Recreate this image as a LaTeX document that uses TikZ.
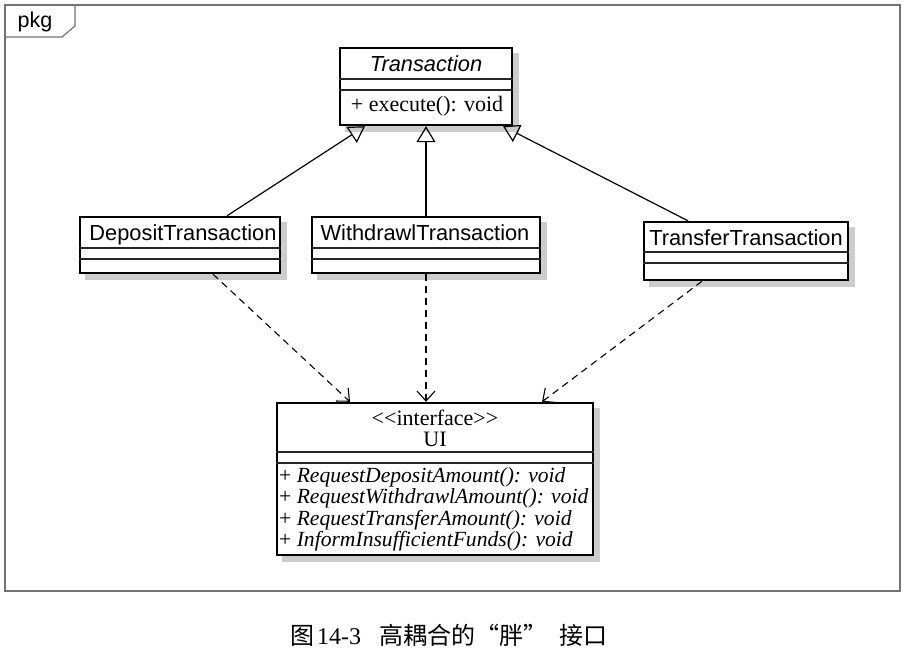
\documentclass[tikz,border=0pt]{standalone}
\usepackage{fontspec}
\setmainfont{Liberation Serif}
\setsansfont{Liberation Sans}
\newfontfamily\cjk{Noto Sans CJK SC}
\usetikzlibrary{arrows.meta,backgrounds}
\begin{document}
\begin{tikzpicture}[x=1pt,y=-1pt,
  classbox/.style={draw=black, line width=2.4pt, fill=white, inner sep=0pt},
  divider/.style={line width=1.1pt, draw=black!85},
  cname/.style={font=\sffamily\fontsize{21.8}{24}\selectfont, anchor=base, inner sep=0pt},
  mtext/.style={font=\fontsize{22}{24}\selectfont, anchor=base, inner sep=0pt},
  utext/.style={font=\fontsize{21.6}{24}\selectfont, anchor=base west, inner sep=0pt},
  shadowfill/.style={fill=black!20},
  frameline/.style={draw=black!55, line width=1.2pt},
  gen/.style={draw=black, line width=1.2pt, -{Triangle[open, length=16pt, width=19pt, line width=1.2pt]}},
  dependency/.style={draw=black, line width=1.1pt, dash pattern=on 7pt off 5pt, -{Straight Barb[length=10pt, width=18pt, line width=1.1pt]}}
]
\useasboundingbox (0,0) rectangle (906,654);

% outer package frame
\draw[frameline] (5,5) rectangle (900,591);
\draw[frameline] (75,5) -- (75,26) -- (62,37) -- (5,37);
\node[font=\sffamily\fontsize{21.5}{24}\selectfont, anchor=base, inner sep=0pt] (pkg) at (35,27) {pkg};

% class boxes
\node[classbox, minimum width=172pt, minimum height=77pt] (trans) at (426,86.5) {};
\node[classbox, minimum width=200pt, minimum height=56pt] (dep) at (180,245) {};
\node[classbox, minimum width=228pt, minimum height=56pt] (wd) at (426,245) {};
\node[classbox, minimum width=204pt, minimum height=58pt] (tr) at (746,251) {};
\node[classbox, minimum width=316pt, minimum height=152pt] (ui) at (435,479) {};

% shadows
\begin{scope}[on background layer]
  \foreach \n in {trans,dep,wd,tr,ui}{
    \fill[shadowfill] ([shift={(6,6)}]\n.south west) rectangle ([shift={(6,6)}]\n.north east);
  }
\end{scope}

% dividers
\draw[divider] (trans.west |- 0,79) -- (trans.east |- 0,79);
\draw[divider] (trans.west |- 0,90) -- (trans.east |- 0,90);
\draw[divider] (dep.west |- 0,248) -- (dep.east |- 0,248);
\draw[divider] (dep.west |- 0,259) -- (dep.east |- 0,259);
\draw[divider] (wd.west |- 0,248) -- (wd.east |- 0,248);
\draw[divider] (wd.west |- 0,259) -- (wd.east |- 0,259);
\draw[divider] (tr.west |- 0,252) -- (tr.east |- 0,252);
\draw[divider] (tr.west |- 0,263) -- (tr.east |- 0,263);
\draw[divider] (ui.west |- 0,452) -- (ui.east |- 0,452);
\draw[divider] (ui.west |- 0,463) -- (ui.east |- 0,463);

% texts
\node[cname, font=\sffamily\itshape\fontsize{21.8}{24}\selectfont] (transname) at (426,71) {Transaction};
\node[mtext] (transop) at (427,111) {+ execute(): void};
\node[cname] (depname) at (183,240) {DepositTransaction};
\node[cname] (wdname) at (425,240) {WithdrawlTransaction};
\node[cname] (trname) at (746,245.5) {TransferTransaction};
\node[mtext] (uist) at (435,425) {\textless\kern0pt\textless\kern0pt interface\textgreater\kern0pt\textgreater};
\node[mtext] (uiname) at (435,446) {UI};
\node[utext] (op1) at (279,482) {+ \textit{RequestDepositAmount(): void}};
\node[utext] (op2) at (279,503.5) {+ \textit{RequestWithdrawlAmount(): void}};
\node[utext] (op3) at (279,525) {+ \textit{RequestTransferAmount(): void}};
\node[utext] (op4) at (279,546.5) {+ \textit{InformInsufficientFunds(): void}};

% generalizations
\draw[gen] (dep.north -| 227,0) -- (trans.south -| 365,0);
\draw[gen] (wd.north) -- (trans.south -| wd.north);
\draw[gen] (tr.north -| 688,0) -- (trans.south -| 503,0);

% dependencies
\draw[dependency] (dep.south -| 213,0) -- (ui.north -| 350,0);
\draw[dependency] (wd.south) -- (ui.north -| wd.south);
\draw[dependency] (tr.south -| 702,0) -- (ui.north -| 542,0);

% caption
\node[anchor=base west, inner sep=0pt, font=\fontsize{24}{26}\selectfont] (caption) at (290,644)
  {{\cjk 图}\hspace{3pt}14-3\hspace{18pt}{\cjk 高耦合的“胖”}\hspace{12pt}{\cjk 接口}};
\end{tikzpicture}
\end{document}
